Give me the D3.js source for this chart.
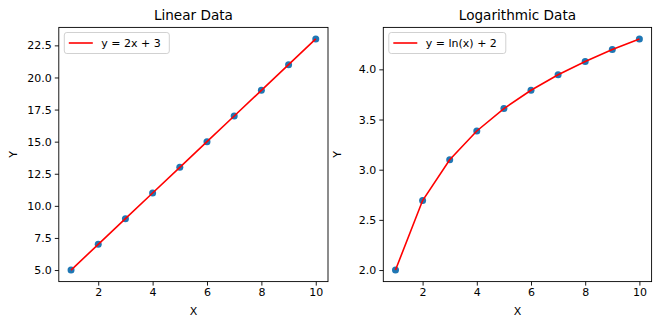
<!DOCTYPE html>
<html><head><meta charset="utf-8">
<script src="https://cdn.jsdelivr.net/npm/d3@7"></script>
<style>
html,body{margin:0;padding:0;background:#fff;}
text{font-family:"DejaVu Sans",sans-serif;fill:#000;}
</style></head>
<body><svg id="c" width="660" height="326"></svg>
<script>
const xValues = [1,2,3,4,5,6,7,8,9,10];
const linearY = [5,7,9,11,13,15,17,19,21,23];
const logY = [2.0,2.693,3.099,3.386,3.609,3.792,3.946,4.079,4.197,4.303];
const linearYTicks = [5.0,7.5,10.0,12.5,15.0,17.5,20.0,22.5];
const logYTicks = [2.0,2.5,3.0,3.5,4.0];
const xTicks = [2,4,6,8,10];
const titles = ["Linear Data","Logarithmic Data"];
const legendLabels = ["y = 2x + 3","y = ln(x) + 2"];

const svg = d3.select("#c");
const panels = [
  {x0:58.8, x1:328, ys:linearY, yt:linearYTicks, title:titles[0], leg:legendLabels[0], legW:105},
  {x0:383.3, x1:651.6, ys:logY, yt:logYTicks, title:titles[1], leg:legendLabels[1], legW:117}
];
const plotTop = 27.4, plotBottom = 281.6;

panels.forEach(p => {
  const ymin = d3.min(p.ys), ymax = d3.max(p.ys);
  const ym = (ymax - ymin) * 0.05;
  const x = d3.scaleLinear().domain([0.55, 10.45]).range([p.x0, p.x1]);
  const y = d3.scaleLinear().domain([ymin - ym, ymax + ym]).range([plotBottom, plotTop]);
  const g = svg.append("g");

  const xa = g.append("g").attr("transform", `translate(0,${plotBottom})`)
    .call(d3.axisBottom(x).tickValues(xTicks).tickSize(4).tickPadding(3).tickFormat(d3.format("d")));
  xa.select(".domain").remove();
  xa.selectAll("line").attr("stroke","#000").attr("stroke-width",0.9);
  xa.selectAll("text").attr("font-size","11px").attr("font-family","DejaVu Sans").attr("fill","#000");

  const ya = g.append("g").attr("transform", `translate(${p.x0},0)`)
    .call(d3.axisLeft(y).tickValues(p.yt).tickSize(4).tickPadding(3).tickFormat(d3.format(".1f")));
  ya.select(".domain").remove();
  ya.selectAll("line").attr("stroke","#000").attr("stroke-width",0.9);
  ya.selectAll("text").attr("font-size","11px").attr("font-family","DejaVu Sans").attr("fill","#000");

  g.selectAll("circle.pt").data(xValues).enter().append("circle")
    .attr("cx", d => x(d)).attr("cy", (d,i) => y(p.ys[i])).attr("r", 3.5)
    .attr("fill", "#1f77b4");

  const line = d3.line().x(d => x(d)).y((d,i) => y(p.ys[i]));
  g.append("path").datum(xValues).attr("d", line).attr("fill","none")
    .attr("stroke","red").attr("stroke-width",1.6);

  g.append("rect").attr("x", p.x0).attr("y", plotTop).attr("width", p.x1 - p.x0).attr("height", plotBottom - plotTop)
    .attr("fill","none").attr("stroke","#000").attr("stroke-width",0.9);

  g.append("text").attr("x", (p.x0 + p.x1)/2).attr("y", 20).attr("text-anchor","middle")
    .attr("font-size","13.6px").text(p.title);
  g.append("text").attr("x", (p.x0 + p.x1)/2).attr("y", 315).attr("text-anchor","middle")
    .attr("font-size","11px").text("X");
  g.append("text").attr("transform", `translate(${p.x0 - 42},${(plotTop+plotBottom)/2}) rotate(-90)`)
    .attr("text-anchor","middle").attr("font-size","11px").text("Y");

  const lx = p.x0 + 5.5, ly = 32.5;
  g.append("rect").attr("x", lx).attr("y", ly).attr("width", p.legW).attr("height", 21)
    .attr("rx", 2.5).attr("fill","rgba(255,255,255,0.8)").attr("stroke","#cccccc").attr("stroke-width",0.9);
  g.append("line").attr("x1", lx + 4.5).attr("x2", lx + 28.5).attr("y1", ly + 10.5).attr("y2", ly + 10.5)
    .attr("stroke","red").attr("stroke-width",1.6);
  g.append("text").attr("x", lx + 37).attr("y", ly + 14.5).attr("font-size","11px").text(p.leg);
});
</script></body></html>
